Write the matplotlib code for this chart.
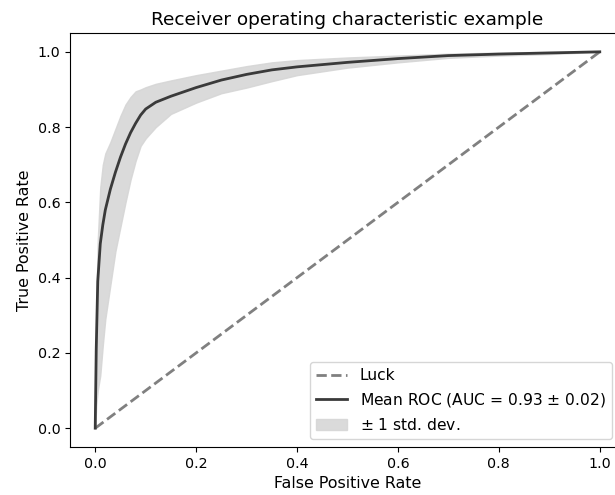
import matplotlib
matplotlib.use('Agg')
import matplotlib.pyplot as plt

# mean ROC
mean_fpr = [0, 0.002, 0.005, 0.01, 0.015, 0.02, 0.03, 0.04, 0.05, 0.06, 0.07, 0.08, 0.09,
            0.1, 0.12, 0.15, 0.2, 0.25, 0.3, 0.35, 0.4, 0.5, 0.6, 0.7, 0.8, 0.9, 1.0]
mean_tpr = [0, 0.21, 0.39, 0.49, 0.54, 0.58, 0.635, 0.68, 0.72, 0.755, 0.785, 0.81, 0.832,
            0.848, 0.866, 0.882, 0.905, 0.925, 0.94, 0.952, 0.96, 0.972, 0.982, 0.99, 0.994, 0.997, 1.0]
tpr_upper = [0, 0.32, 0.5, 0.64, 0.70, 0.73, 0.76, 0.795, 0.83, 0.86, 0.88, 0.895, 0.9,
             0.906, 0.915, 0.924, 0.938, 0.95, 0.962, 0.972, 0.978, 0.985, 0.99, 0.995, 0.998, 1.0, 1.0]
tpr_lower = [0, 0.06, 0.1, 0.14, 0.22, 0.29, 0.38, 0.47, 0.535, 0.6, 0.66, 0.71, 0.75,
             0.77, 0.8, 0.835, 0.865, 0.89, 0.905, 0.922, 0.938, 0.958, 0.972, 0.984, 0.99, 0.994, 1.0]
luck = [0, 1]

fig = plt.figure(figsize=(6.15, 4.95), dpi=100)
ax = fig.add_axes([70 / 615, 48 / 495, 555 / 615, 414 / 495])

ax.plot(luck, luck, linestyle='--', lw=2, color='#808080', label='Luck')
ax.plot(mean_fpr, mean_tpr, color='#3a3a3a', lw=2, label='Mean ROC (AUC = 0.93 $\\pm$ 0.02)')
ax.fill_between(mean_fpr, tpr_lower, tpr_upper, color='#d6d6d6', alpha=0.9, label='$\\pm$ 1 std. dev.')

ax.set_xlim(-0.05, 1.05)
ax.set_ylim(-0.05, 1.05)
ax.tick_params(labelsize=10.3)
ax.set_xlabel('False Positive Rate', fontsize=11.4)
ax.set_ylabel('True Positive Rate', fontsize=11.4)
ax.set_title('Receiver operating characteristic example', fontsize=13.3)
ax.legend(loc='lower right', bbox_to_anchor=(612 / 615, 56 / 495),
          bbox_transform=fig.transFigure, borderaxespad=0, fontsize=11.2)

fig.savefig('out.png', dpi=100)
